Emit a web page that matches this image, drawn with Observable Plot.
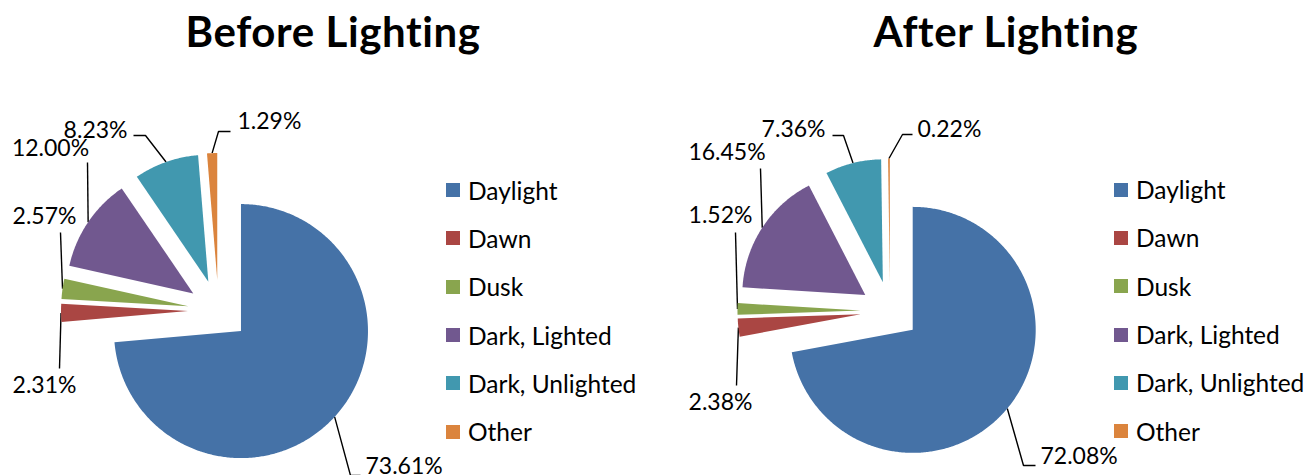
<!DOCTYPE html>
<html>
<head>
<meta charset="utf-8">
<script src="https://cdn.jsdelivr.net/npm/d3@7"></script>
<script src="https://cdn.jsdelivr.net/npm/@observablehq/plot@0.6"></script>
<style>
  body { margin: 0; background: #fff; font-family: Lato, "Open Sans", sans-serif; }
  #chart { position: relative; width: 1307px; height: 475px; overflow: hidden; background: #fff; }
  .panel { position: absolute; top: 0; }
  .title { position: absolute; font-weight: bold; font-size: 42px; line-height: 42px; letter-spacing: 0.6px; color: #000; white-space: nowrap; transform: translateX(-50%); }
  .legend { position: absolute; }
  .legend .item { display: flex; align-items: center; height: 48.3px; font-size: 24.5px; color: #000; white-space: nowrap; }
  .legend .sw { width: 14px; height: 14px; margin-right: 8px; flex: none; }
</style>
</head>
<body>
<div id="chart"></div>
<script>
// ---------------- data ----------------
const categories = ["Daylight", "Dawn", "Dusk", "Dark, Lighted", "Dark, Unlighted", "Other"];
const beforeValues = [73.61, 2.31, 2.57, 12.00, 8.23, 1.29];
const afterValues = [72.08, 2.38, 1.52, 16.45, 7.36, 0.22];
const chartTitles = ["Before Lighting", "After Lighting"];
const sliceColors = ["#4572A7", "#AA4643", "#89A54E", "#71588F", "#4198AF", "#DB843D"];

// ---------------- layout ----------------
const H = 475;
const explode = 0.24; // fraction of radius
const panels = [
  {
    title: chartTitles[0], values: beforeValues,
    left: 0, width: 653, cx: 218, cy: 310, r: 127,
    titleX: 333, legendX: 446, legendY: 166,
    // label placement in px relative to pie centre: text anchor point + leader bends
    labels: [
      {tx: 147, ty: 156.5, anchor: "start", bends: [[132, 165], [142, 165]]},
      {tx: -174, ty: 75.5, anchor: "middle", bends: [[-159, 58]]},
      {tx: -174, ty: -93.5, anchor: "middle", bends: [[-158, -78]]},
      {tx: -168, ty: -161.5, anchor: "middle", bends: [[-131, -148]]},
      {tx: -91, ty: -180, anchor: "end", bends: [[-73, -175], [-85, -175]]},
      {tx: 19, ty: -188.5, anchor: "start", bends: [[0, -179], [12, -179]]}
    ]
  },
  {
    title: chartTitles[1], values: afterValues,
    left: 653, width: 654, cx: 236.5, cy: 310.5, r: 123,
    titleX: 1006, legendX: 1114, legendY: 165.5,
    labels: [
      {tx: 150.5, ty: 146, anchor: "start", bends: [[133.5, 154.5], [145.5, 154.5]]},
      {tx: -169.5, ty: 91.5, anchor: "middle", bends: [[-153.5, 74.5]]},
      {tx: -169.5, ty: -95.5, anchor: "middle", bends: [[-154.5, -78.5]]},
      {tx: -163, ty: -158, anchor: "middle", bends: [[-129.5, -142.5]]},
      {tx: -64.5, ty: -181, anchor: "end", bends: [[-46.5, -175.5], [-57.5, -175.5]]},
      {tx: 27.5, ty: -181, anchor: "start", bends: [[12.5, -176.5], [22.5, -176.5]]}
    ]
  }
];

const fmt = v => d3.format(".2f")(v) + "%";
const chart = document.getElementById("chart");

panels.forEach(p => {
  const arcs = d3.pie().sort(null).value(d => d)(p.values);
  const polys = [];
  const leaders = [];
  const labels = [];
  arcs.forEach((a, i) => {
    const cat = categories[i];
    const mid = (a.startAngle + a.endAngle) / 2;
    const ox = explode * Math.sin(mid), oy = -explode * Math.cos(mid);
    polys.push({cat, x: ox, y: oy});
    const n = Math.max(2, Math.ceil((a.endAngle - a.startAngle) / 0.01));
    for (let k = 0; k <= n; ++k) {
      const t = a.startAngle + (a.endAngle - a.startAngle) * k / n;
      polys.push({cat, x: ox + Math.sin(t), y: oy - Math.cos(t)});
    }
    const L = p.labels[i];
    leaders.push({cat, x: (1 + explode) * Math.sin(mid), y: -(1 + explode) * Math.cos(mid)});
    L.bends.forEach(([bx, by]) => leaders.push({cat, x: bx / p.r, y: by / p.r}));
    labels.push({cat, x: L.tx / p.r, y: L.ty / p.r, text: fmt(p.values[i]), anchor: L.anchor});
  });

  const textMark = anchor => Plot.text(labels.filter(d => d.anchor === anchor), {
    x: "x", y: "y", text: "text", textAnchor: anchor, lineAnchor: "middle",
    fontFamily: "Lato", fontSize: 23, fill: "#000"
  });

  const plot = Plot.plot({
    width: p.width, height: H,
    margin: 0,
    x: {domain: [-p.cx / p.r, (p.width - p.cx) / p.r], range: [0, p.width], axis: null},
    y: {domain: [-p.cy / p.r, (H - p.cy) / p.r], range: [0, H], axis: null},
    color: {domain: categories, range: sliceColors},
    marks: [
      Plot.line(leaders, {x: "x", y: "y", z: "cat", stroke: "#000", strokeWidth: 1.4, strokeLinejoin: "miter", strokeLinecap: "butt"}),
      Plot.line(polys, {x: "x", y: "y", z: "cat", fill: "cat", stroke: "none", curve: "linear-closed"}),
      textMark("start"), textMark("middle"), textMark("end")
    ]
  });
  plot.classList.add("panel");
  plot.style.left = p.left + "px";
  plot.style.background = "transparent";
  chart.appendChild(plot);

  const t = document.createElement("div");
  t.className = "title";
  t.textContent = p.title;
  t.style.left = p.titleX + "px";
  t.style.top = "10px";
  chart.appendChild(t);

  const color = plot.scale("color");
  const lg = document.createElement("div");
  lg.className = "legend";
  lg.style.left = p.legendX + "px";
  lg.style.top = p.legendY + "px";
  categories.forEach(c => {
    const it = document.createElement("div");
    it.className = "item";
    const sw = document.createElement("div");
    sw.className = "sw";
    sw.style.background = color.apply(c);
    const tx = document.createElement("span");
    tx.textContent = c;
    it.appendChild(sw); it.appendChild(tx);
    lg.appendChild(it);
  });
  chart.appendChild(lg);
});
</script>
</body>
</html>
